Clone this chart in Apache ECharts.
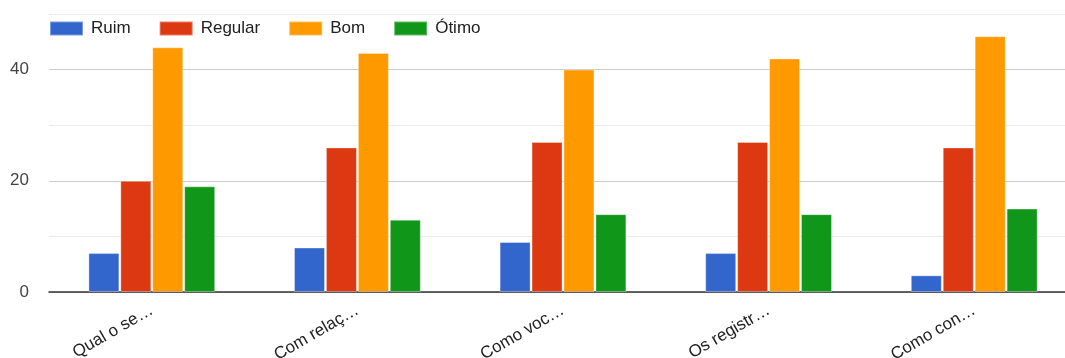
<!DOCTYPE html>
<html>
<head>
<meta charset="utf-8">
<script src="https://cdn.jsdelivr.net/npm/echarts@6/dist/echarts.min.js"></script>
<style>
  html, body { margin: 0; padding: 0; background: #fff; }
  #chart { width: 1065px; height: 358px; }
</style>
</head>
<body>
<div id="chart"></div>
<script>
// Question labels (shortened) and answer counts per rating
const categories = ['Qual o se…', 'Com relaç…', 'Como voc…', 'Os registr…', 'Como con…'];
const ruim    = [7, 8, 9, 7, 3];
const regular = [20, 26, 27, 27, 26];
const bom     = [44, 43, 40, 42, 46];
const otimo   = [19, 13, 14, 14, 15];
const seriesNames = ['Ruim', 'Regular', 'Bom', 'Ótimo'];
const seriesColors = ['#3366cc', '#dc3912', '#ff9900', '#109618'];
const yTickLabels = [0, 20, 40];

const values = [ruim, regular, bom, otimo];
const font = 'Liberation Sans, Arial, sans-serif';

const chart = echarts.init(document.getElementById('chart'), null, { renderer: 'canvas' });

chart.setOption({
  animation: false,
  textStyle: { fontFamily: font },
  legend: {
    left: 44,
    top: 15,
    itemWidth: 33,
    itemHeight: 14,
    itemGap: 28,
    icon: 'rect',
    textStyle: { fontSize: 17, color: '#222', fontFamily: font, padding: [0, 0, 0, 3] },
    data: seriesNames
  },
  grid: {
    left: 49,
    top: 14,
    width: 1028,
    bottom: 66,
    containLabel: false,
    outerBoundsMode: 'none'
  },
  xAxis: {
    type: 'category',
    data: categories,
    axisLine: { show: true, lineStyle: { color: '#333', width: 1.5 } },
    axisTick: { show: false },
    axisLabel: {
      rotate: 30,
      margin: 17,
      fontSize: 17,
      color: '#222',
      fontFamily: font,
      interval: 0
    }
  },
  yAxis: {
    type: 'value',
    min: 0,
    max: 50,
    interval: 10,
    axisLine: { show: false },
    axisTick: { show: false },
    axisLabel: {
      margin: 20,
      fontSize: 17,
      color: '#444',
      fontFamily: font,
      formatter: v => (yTickLabels.indexOf(v) >= 0 ? String(v) : '')
    },
    splitLine: {
      show: true,
      lineStyle: { color: ['#cccccc', '#ebebeb'], width: 1 }
    }
  },
  series: seriesNames.map((name, i) => ({
    name: name,
    type: 'bar',
    data: values[i],
    barWidth: 31,
    barGap: '3%',
    itemStyle: {
      color: seriesColors[i],
      borderColor: 'rgba(255,255,255,0.35)',
      borderWidth: 1
    }
  }))
});
</script>
</body>
</html>
